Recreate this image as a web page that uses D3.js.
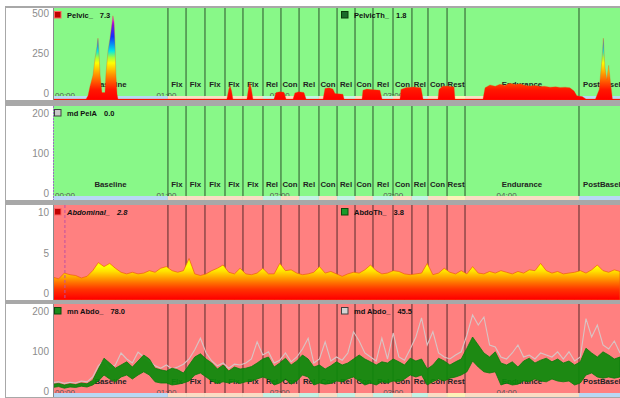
<!DOCTYPE html>
<html>
<head>
<meta charset="utf-8">
<script src="https://cdn.jsdelivr.net/npm/d3@7"></script>
<style>
  body { margin: 0; background: #fff; }
  svg { display: block; font-family: "Liberation Sans", Arial, sans-serif; }
</style>
</head>
<body>
<script>
// ---- session segments (seconds) ----
var segLabels = ["Baseline","Flx","Flx","Flx","Flx","Flx","Rel","Con","Rel","Con","Rel","Con","Rel","Con","Rel","Con","Rest","Endurance","PostBaseline"];
var segStarts = [0,60.8,70.4,80.4,91,100.5,111.1,120.6,130.2,140.7,150.3,159.8,169.3,179.9,189.9,198.4,208.5,218,278.3];
var sessionEnd = 340;
var timeTicks = [0,60,120,180,240];

// ---- channel legends ----
var leftNames  = ["Pelvic_","md PelA","Abdominal_","mn Abdo_"];
var leftValues = ["7.3","0.0","2.8","78.0"];
var rightNames  = ["PelvicTh_",null,"AbdoTh_","md Abdo_"];
var rightValues = ["1.8",null,"3.8","45.5"];
var yTicks = [[0,250,500],[0,100,200],[0,5,10],[0,100,200]];

// ---- Pelvic_ (uV), [seconds, value] ----
var pelvic = [
  [0,0],[17.5,0],[18.5,20],[19.6,80],[21.2,150],[22.2,250],[23.3,330],[23.8,380],[24.3,300],[24.9,150],
  [25.9,40],[27.5,40],[28,150],[29.1,300],[30.2,380],[31.2,470],[31.7,520],[32.3,480],[32.8,350],[33.3,150],
  [33.9,30],[34.4,0],
  [92,0],[93,60],[93.7,85],[94.5,50],[95.2,0],
  [102.6,0],[103.5,70],[104.2,105],[105,60],[105.8,0],
  [116.9,0],[118,40],[120,45],[122.2,42],[123.3,0],
  [127,0],[128,38],[130,46],[132.8,40],[133.9,0],
  [142.9,0],[143.9,65],[146,70],[148.1,62],[149.2,35],[153.4,30],[154,0],
  [163.5,0],[164,55],[166,62],[170,58],[173,55],[174.1,0],
  [183.6,0],[184.1,60],[187,72],[191,75],[194.7,70],[195.8,0],
  [203.7,0],[204.2,60],[206,80],[209,82],[212.2,75],[212.7,0],
  [227.5,0],[228.6,70],[231.2,88],[234,80],[236.5,92],[239,85],[241.8,98],[244.5,90],[247.1,95],[250,85],
  [252.4,82],[255,85],[257.7,78],[260,80],[263,74],[266,76],[268.3,72],[271,74],[273.5,70],[275.7,50],
  [277.2,20],[280,15],[282,0],
  [287,0],[289,60],[290.5,250],[291.2,380],[292,200],[293,120],[294,210],[295,100],[296,0],[300,0]
];

// ---- sampled channels, one value every 3 s from 0 s ----
var sampleStep = 3;
var abdominal = [
  2.7,2.5,3.2,3.0,2.9,2.6,2.8,3.5,4.5,4.0, 4.4,3.8,3.3,3.1,3.3,3.1,3.2,3.5,3.3,3.8,
  4.0,3.5,3.3,3.5,5.0,3.1,2.9,3.1,3.5,3.8, 4.2,3.3,3.1,3.8,3.1,3.0,3.2,3.8,3.1,3.1,
  4.4,3.5,3.6,3.2,3.0,3.1,3.3,4.0,3.2,3.4, 3.1,2.8,3.1,3.3,3.2,3.6,4.2,3.5,3.1,3.2,
  3.5,3.4,3.1,3.0,3.1,3.2,4.4,3.0,3.2,3.8, 3.3,3.1,3.5,3.1,4.0,3.2,3.1,3.4,3.2,3.5,
  3.3,3.1,3.4,3.2,3.6,3.5,4.4,3.5,3.2,3.4, 3.1,3.2,3.3,3.5,3.2,3.6,4.2,3.5,3.3,3.6, 3.4
];
var mnAbdoHi = [
  32,34,30,33,31,35,33,42,70,97, 85,72,80,88,75,90,105,95,72,68,
  65,72,68,60,80,100,108,95,85,70, 80,65,75,70,72,76,85,95,100,75,
  85,97,80,90,105,95,75,80,70,78, 88,80,85,95,105,95,88,80,88,85,
  95,88,80,97,90,95,70,80,97,90, 80,88,95,122,150,130,110,100,113,85,
  80,88,75,90,97,85,92,97,88,95, 85,90,80,88,122,110,100,113,105,95, 100
];
var mnAbdoLo = [
  24,26,22,25,24,27,25,30,40,55, 45,38,50,55,45,55,63,55,38,35,
  35,30,32,35,40,55,60,50,40,34, 38,35,38,34,38,40,45,50,45,30,
  35,45,32,40,55,50,30,35,32,34, 40,38,45,50,40,30,35,30,38,35,
  40,38,45,55,50,55,30,38,45,40, 47,50,55,63,90,75,63,60,63,30,
  35,30,32,40,38,45,40,38,45,40, 38,40,30,35,55,60,50,47,50,47, 50
];
var mdAbdo = [
  36,38,34,37,35,40,38,50,78,92, 70,80,110,95,85,112,100,90,78,72,
  80,70,75,82,95,118,147,110,90,78, 85,72,82,80,85,95,138,105,113,85,
  92,110,88,100,120,147,85,95,138,90, 100,92,110,163,140,110,100,90,147,95,
  160,100,92,120,150,198,130,163,110,100, 95,105,113,155,205,180,200,130,125,100,
  95,110,130,100,105,95,110,105,100,113, 95,113,90,100,196,150,180,130,120,140, 110
];

// ---- layout ----
var W = 620, H = 398;
var plotLeft = 53, plotRight = 620;
var panels = [
  { top: 8,   bottom: 100, zero: 99,  span: 80, bg: "#88f888" },
  { top: 106, bottom: 200, zero: 199, span: 80, bg: "#88f888" },
  { top: 205, bottom: 300, zero: 299, span: 81, bg: "#ff8080" },
  { top: 304, bottom: 397, zero: 397, span: 80, bg: "#ff8080" }
];
var stripColor = {
  Baseline: "#b8d8f4", PostBaseline: "#b8d8f4", Flx: "#fadcc4", Con: "#fadcc4",
  Endurance: "#fadcc4", Rel: "#c4f2e4", Rest: "#fcf2b8"
};

var x = d3.scaleLinear().domain([0, 300]).range([plotLeft, plotRight]);

var segs = segLabels.map(function(l, i) {
  return { label: l, start: segStarts[i], end: i < segStarts.length - 1 ? segStarts[i + 1] : sessionEnd };
});

var svg = d3.select("body").append("svg")
  .attr("width", W)
  .attr("height", H);

var defs = svg.append("defs");

function gradient(id, y0, y1, stops) {
  var g = defs.append("linearGradient")
    .attr("id", id)
    .attr("gradientUnits", "userSpaceOnUse")
    .attr("x1", 0).attr("x2", 0)
    .attr("y1", y0).attr("y2", y1);
  stops.forEach(function(s) {
    g.append("stop").attr("offset", s[0]).attr("stop-color", s[1]);
  });
}

// frame
svg.append("rect").attr("x", 5).attr("y", 6).attr("width", W - 5).attr("height", H - 6).attr("fill", "#a8a8a8");

var fmt = function(s) { return d3.format("02")(Math.floor(s / 60)) + ":" + d3.format("02")(s % 60); };

panels.forEach(function(p, k) {
  var y = d3.scaleLinear().domain([0, yTicks[k][2]]).range([p.zero, p.zero - p.span]);
  p.y = y;

  // white label gutter
  svg.append("rect").attr("x", 6).attr("y", p.top).attr("width", plotLeft - 6).attr("height", p.bottom - p.top).attr("fill", "#fff");

  var clipId = "clip" + k;
  defs.append("clipPath").attr("id", clipId)
    .append("rect").attr("x", plotLeft).attr("y", p.top).attr("width", plotRight - plotLeft).attr("height", p.bottom - p.top);

  var g = svg.append("g").attr("clip-path", "url(#" + clipId + ")");

  g.append("rect").attr("x", plotLeft).attr("y", p.top).attr("width", plotRight - plotLeft).attr("height", p.bottom - p.top).attr("fill", p.bg);

  // segment names (the last one runs off the right edge, as in the original)
  g.append("g").selectAll("text").data(segs).enter().append("text")
    .attr("x", function(d) {
      var a = x(d.start), b = Math.min(x(d.end), plotRight);
      return d.label === "PostBaseline" ? a + 4 : (a + b) / 2;
    })
    .attr("y", p.bottom - 13)
    .attr("text-anchor", function(d) { return d.label === "PostBaseline" ? "start" : "middle"; })
    .attr("font-size", 7.8).attr("font-weight", "bold").attr("fill", "#222")
    .text(function(d) { return d.label; });

  // time labels
  g.append("g").selectAll("text").data(timeTicks).enter().append("text")
    .attr("x", function(d) { return d === 0 ? x(d) + 2 : x(d); })
    .attr("y", p.bottom - 2)
    .attr("text-anchor", function(d) { return d === 0 ? "start" : "middle"; })
    .attr("font-size", 8).attr("fill", "#555")
    .text(fmt);

  // segment boundaries
  g.append("g").selectAll("line").data(segs.slice(1)).enter().append("line")
    .attr("x1", function(d) { return x(d.start); }).attr("x2", function(d) { return x(d.start); })
    .attr("y1", p.top).attr("y2", p.bottom)
    .attr("stroke", "#000").attr("stroke-opacity", 0.42).attr("stroke-width", 1.6);

  // phase strip
  g.append("g").selectAll("rect").data(segs).enter().append("rect")
    .attr("x", function(d) { return x(d.start); })
    .attr("width", function(d) { return x(d.end) - x(d.start); })
    .attr("y", p.bottom - 4).attr("height", 4)
    .attr("fill", function(d) { return stripColor[d.label]; });

  p.g = g;

  // y tick labels
  svg.append("g").selectAll("text").data(yTicks[k]).enter().append("text")
    .attr("x", 49).attr("y", function(d) { return y(d) - 2; })
    .attr("text-anchor", "end")
    .attr("font-size", 10).attr("fill", "#8c8c8c")
    .text(function(d) { return d; });

  // plot left edge
  svg.append("line").attr("x1", plotLeft + 0.5).attr("x2", plotLeft + 0.5).attr("y1", p.top).attr("y2", p.bottom)
    .attr("stroke", k === 1 ? "#9a70c0" : "#888").attr("stroke-dasharray", k === 1 ? "2,1" : null);
});

// ---- Pelvic_ ----
var p0 = panels[0];
gradient("gradPelvic", p0.y(0), p0.y(500), [
  [0, "#ff0000"], [0.12, "#ff1800"], [0.3, "#ff9000"], [0.45, "#ffff00"], [0.52, "#a0ff40"],
  [0.6, "#00e8e8"], [0.78, "#1030ff"], [0.92, "#8010e0"], [1, "#ff00ff"]
]);
p0.g.append("path")
  .datum(pelvic)
  .attr("d", d3.area().x(function(d) { return x(d[0]); }).y0(p0.bottom).y1(function(d) { return p0.y(d[1]); }))
  .attr("fill", "url(#gradPelvic)")
  .attr("stroke", "#e05010").attr("stroke-width", 0.5).attr("stroke-opacity", 0.6);

// ---- Abdominal_ ----
var p2 = panels[2];
gradient("gradAbdo", p2.y(0), p2.y(4), [
  [0, "#ff0000"], [0.3, "#ff3400"], [0.5, "#ff7000"], [0.7, "#ffb000"], [0.85, "#ffe000"], [1, "#ffff00"]
]);
p2.g.append("path")
  .datum(abdominal)
  .attr("d", d3.area().x(function(d, i) { return x(i * sampleStep); }).y0(p2.bottom).y1(function(d) { return p2.y(d); }))
  .attr("fill", "url(#gradAbdo)")
  .attr("stroke", "#f05a10").attr("stroke-width", 0.7);
p2.g.append("line")
  .attr("x1", x(6.3)).attr("x2", x(6.3)).attr("y1", p2.top).attr("y2", p2.bottom)
  .attr("stroke", "#c050a0").attr("stroke-dasharray", "3,2");

// ---- mn Abdo_ / md Abdo_ ----
var p3 = panels[3];
p3.g.append("path")
  .datum(mdAbdo)
  .attr("d", d3.line().x(function(d, i) { return x(i * sampleStep); }).y(function(d) { return p3.y(d); }))
  .attr("fill", "none").attr("stroke", "#d8c4c4").attr("stroke-width", 1.1);
p3.g.append("path")
  .datum(d3.range(mnAbdoHi.length))
  .attr("d", d3.area()
    .x(function(i) { return x(i * sampleStep); })
    .y0(function(i) { return p3.y(mnAbdoLo[i]); })
    .y1(function(i) { return p3.y(mnAbdoHi[i]); }))
  .attr("fill", "#0a8a0a").attr("fill-opacity", 0.92).attr("stroke", "#0a7a0a").attr("stroke-width", 0.8);

// ---- legends ----
var leftIcon  = [["#c00000", "#ff6060"], ["#c8c8c8", "#404040"], ["#c00000", "#ff6060"], ["#1a8a1a", "#0a4a0a"]];
var rightIcon = [["#1a6a2a", "#0a3a0a"], null, ["#1a9a2a", "#0a4a0a"], ["#d4d4d4", "#404040"]];

panels.forEach(function(p, k) {
  function legend(x0, name, value, icon, italic) {
    var lg = svg.append("g").attr("transform", "translate(" + x0 + "," + (p.top + 3) + ")");
    lg.append("rect").attr("x", 0.5).attr("y", 0.5).attr("width", 6.5).attr("height", 6.5)
      .attr("fill", icon[0]).attr("stroke", icon[1]);
    var t = lg.append("text").attr("x", 13).attr("y", 6.8)
      .attr("font-size", 7.5).attr("font-weight", "bold").attr("fill", "#111")
      .attr("font-style", italic ? "italic" : null);
    t.append("tspan").text(name);
    t.append("tspan").attr("dx", 7).text(value);
  }
  legend(54, leftNames[k], leftValues[k], leftIcon[k], k === 2);
  if (rightNames[k]) legend(341, rightNames[k], rightValues[k], rightIcon[k], false);
});
</script>
</body>
</html>
